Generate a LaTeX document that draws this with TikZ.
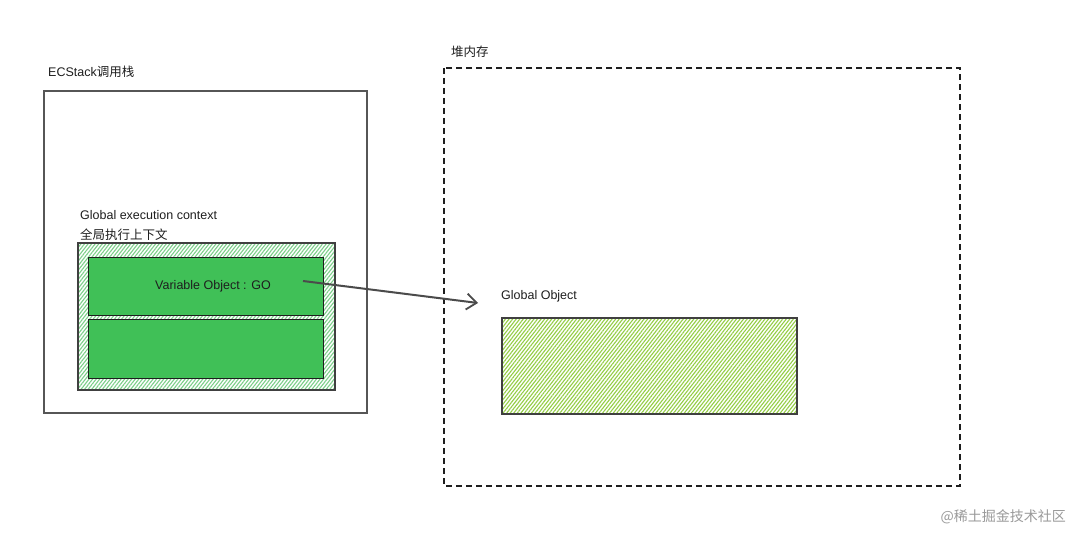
\documentclass[tikz,border=0pt]{standalone}
\usepackage{fontspec}
\setmainfont{Liberation Sans}
\newfontfamily\cjk{Noto Sans CJK SC}
\usetikzlibrary{patterns.meta,arrows.meta}
\definecolor{gofill}{HTML}{40C057}
\definecolor{hatchA}{HTML}{7CCF89}
\definecolor{hatchB}{HTML}{94CE45}
\definecolor{inkc}{HTML}{1E1E1E}
\definecolor{wm}{HTML}{9A9A9A}
\tikzset{
  x=1pt,y=-1pt,
  lbl/.style={font=\fontsize{12.5}{14}\selectfont, text=inkc, inner sep=0pt, anchor=west},
  box/.style={draw=inkc!85, line width=1.4pt},
  hatchbox/.style={pattern={Lines[angle=52,distance=2.8pt,line width=1.1pt]}},
  greenbox/.style={draw=inkc, line width=1.4pt, fill=gofill},
}
\begin{document}
\begin{tikzpicture}
\useasboundingbox[fill=white] (0,0) rectangle (1071,534);
% ECStack
\node[lbl] (eclbl) at (48,72) {ECStack{\cjk 调用栈}};
\draw[box, draw=inkc!75] (44,91) rectangle (367,413);
% Global execution context
\node[lbl] (geclbl) at (80,215) {Global execution context};
\node[lbl] (geccn) at (80,235) {\cjk 全局执行上下文};
\fill[hatchbox, pattern color=hatchA] (78,243) rectangle (335,390);
\draw[box] (78,243) rectangle (335,390);
\node[greenbox, minimum width=235pt, minimum height=58pt, anchor=north west, inner sep=0pt] (vo) at (88,257) {};
\node[lbl, anchor=center] (votext) at (213,286) {Variable Object : GO};
\node[greenbox, minimum width=235pt, minimum height=59pt, anchor=north west, inner sep=0pt] (vo2) at (88,319) {};
% Heap
\node[lbl] (heaplbl) at (451,52) {\cjk 堆内存};
\draw[draw=inkc, line width=1.1pt, dash pattern=on 6pt off 4pt] (444,68) rectangle (960,486);
\node[lbl] (golbl) at (501,296) {Global Object};
\fill[hatchbox, pattern color=hatchB] (502,318) rectangle (797,414);
\draw[box] (502,318) rectangle (797,414);
\coordinate (go) at (502,318);
% arrow
\coordinate (astart) at (303,281);
\coordinate (aend) at (478,303);
\draw[draw=inkc!80, line width=2pt, -{Straight Barb[length=10pt,width=16pt,line width=1.8pt]}] (astart) -- (aend);
% watermark
\node[font=\cjk\fontsize{14}{16}\selectfont, text=wm, anchor=east, inner sep=0pt] (wmark) at (1066,517) {@稀土掘金技术社区};
\end{tikzpicture}
\end{document}
